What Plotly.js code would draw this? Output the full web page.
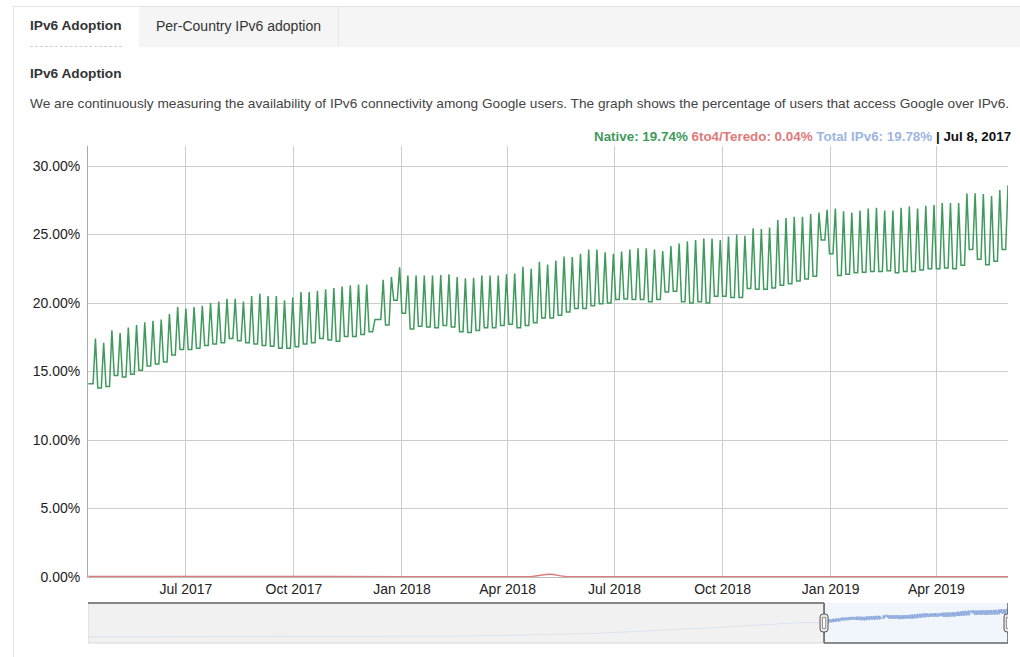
<!DOCTYPE html>
<html>
<head>
<meta charset="utf-8">
<script src="https://cdn.plot.ly/plotly-3.0.1.min.js"></script>
<style>
  html, body { margin:0; padding:0; background:#fff; width:1020px; height:657px; overflow:hidden;
    font-family:"Liberation Sans", Arial, Helvetica, sans-serif; }
  #chart { position:absolute; left:0; top:0; width:1020px; height:657px; z-index:1; }
  .hdr { position:absolute; z-index:2; white-space:nowrap; }
</style>
</head>
<body>
<div class="hdr" style="left:13px;top:6px;width:1007px;height:1px;background:#e4e4e4"></div>
<div class="hdr" style="left:13px;top:6px;width:1px;height:651px;background:#e4e4e4"></div>
<div class="hdr" style="left:139px;top:7px;width:881px;height:40px;background:#f5f5f5"></div>
<div class="hdr" style="left:338px;top:7px;width:1px;height:40px;background:#e8e8e8"></div>
<div class="hdr" style="left:30px;top:18px;font-size:13.7px;line-height:16px;font-weight:bold;color:#333">IPv6 Adoption</div>
<div class="hdr" style="left:30px;top:46px;width:92px;height:0;border-top:1px dashed #cfcfcf"></div>
<div class="hdr" style="left:156px;top:18px;font-size:14px;line-height:16px;color:#333">Per-Country IPv6 adoption</div>
<div class="hdr" style="left:30px;top:66px;font-size:13.7px;line-height:16px;font-weight:bold;color:#333">IPv6 Adoption</div>
<div class="hdr" style="left:30px;top:96px;font-size:13.68px;line-height:16px;color:#444">We are continuously measuring the availability of IPv6 connectivity among Google users. The graph shows the percentage of users that access Google over IPv6.</div>
<div id="chart"></div>
<script>
// ---------------- data ----------------
// Weekly readings: each week's Saturday peak and the following weekday low, Native IPv6 %
const firstSaturday = '2017-04-15';
const preLow = 14.1;  // weekdays before the first weekend in view
const weekendPeak = [
  17.4, 17.1, 18.0, 17.8, 18.2, 18.4, 18.6, 18.7, 18.8, 19.2,
  19.7, 19.6, 19.7, 19.8, 20.0, 20.1, 20.3, 20.3, 20.1, 20.5,
  20.7, 20.5, 20.5, 20.2, 20.4, 20.8, 20.8, 20.9, 21.0, 21.1,
  21.2, 21.3, 21.35, 21.35, 18.8, 21.7, 21.9, 22.6, 22.0, 22.0,
  22.0, 22.0, 22.05, 22.1, 21.9, 21.8, 21.85, 22.0, 22.0, 22.0,
  22.1, 22.15, 22.65, 22.5, 23.0, 22.8, 23.1, 23.4, 23.35, 23.6,
  23.9, 23.9, 23.7, 23.6, 23.75, 23.9, 24.0, 24.0, 23.9, 23.8,
  24.15, 24.35, 24.5, 24.6, 24.7, 24.7, 24.6, 24.85, 25.0, 24.9,
  25.45, 25.4, 25.5, 26.05, 26.2, 26.3, 26.3, 26.5, 26.6, 26.8,
  26.9, 26.7, 26.6, 26.75, 26.9, 26.95, 26.75, 26.75, 26.95, 27.05,
  26.9, 27.1, 27.15, 27.3, 27.3, 27.3, 28.0, 28.0, 27.95, 27.8,
  28.25, 28.6
];
const weekdayLow = [
  13.8, 13.9, 14.7, 14.6, 14.8, 15.1, 15.4, 15.55, 15.7, 16.2,
  16.6, 16.6, 16.7, 16.9, 17.0, 17.1, 17.4, 17.25, 17.1, 17.0,
  16.9, 16.85, 16.7, 16.7, 16.8, 17.0, 17.1, 17.4, 17.3, 17.2,
  17.55, 17.55, 17.7, 17.9, 18.8, 18.4, 20.2, 19.25, 18.1, 18.3,
  18.25, 18.2, 18.35, 18.25, 17.9, 17.85, 18.0, 18.2, 18.2, 18.35,
  18.45, 18.2, 18.35, 18.55, 18.9, 18.9, 19.1, 19.35, 19.6, 19.6,
  19.8, 19.95, 20.0, 20.25, 20.3, 20.25, 20.25, 20.1, 20.25, 20.8,
  20.85, 20.1, 20.0, 20.1, 20.0, 20.5, 20.5, 20.4, 20.4, 21.05,
  21.0, 21.0, 21.1, 21.3, 21.4, 21.6, 21.75, 21.95, 24.6, 23.6,
  22.0, 22.1, 22.2, 22.25, 22.3, 22.3, 22.35, 22.2, 22.3, 22.3,
  22.4, 22.5, 22.5, 22.55, 22.5, 22.75, 23.9, 23.2, 22.8, 23.05,
  23.9
];
// 6to4/Teredo (%)
const teredoDates = ['2017-04-09','2017-07-01','2017-10-01','2018-01-01','2018-04-01','2018-04-22','2018-05-07','2018-05-20','2018-06-10','2018-10-01','2019-01-01','2019-06-01'];
const teredoVals  = [0.05, 0.04, 0.04, 0.03, 0.03, 0.05, 0.2, 0.05, 0.03, 0.02, 0.02, 0.02];
// Long-run history for the range selector (Total IPv6 %)
const histDates = ['2008-09-08','2009-01-01','2009-07-01','2010-01-01','2010-07-01','2011-01-01','2011-07-01','2012-01-01','2012-07-01','2013-01-01','2013-07-01','2014-01-01','2014-07-01','2015-01-01','2015-07-01','2016-01-01','2016-07-01','2017-01-01'];
const histTotal = [0.14, 0.16, 0.2, 0.22, 0.25, 0.3, 0.36, 0.45, 0.7, 1.0, 1.6, 2.5, 3.6, 5.3, 7.2, 9.6, 12.0, 14.5];
// Legend readout
const legendNative = '19.74%', legendTeredo = '0.04%', legendTotal = '19.78%', legendDate = 'Jul 8, 2017';
// View window
const viewStart = '2017-04-08 16:00', viewEnd = '2019-06-01 00:00', fullStart = '2008-09-08';

// ---------------- build ----------------
function addDays(iso, n) {
  const d = new Date(iso + 'T00:00:00Z');
  d.setUTCDate(d.getUTCDate() + n);
  return d.toISOString().slice(0, 10);
}
const nx = [], ny = [];
nx.push(addDays(firstSaturday, -6)); ny.push(preLow);
nx.push(addDays(firstSaturday, -2)); ny.push(preLow);
for (let k = 0; k < weekendPeak.length; k++) {
  const sat = addDays(firstSaturday, 7 * k);
  nx.push(sat); ny.push(weekendPeak[k]);            // Saturday peak
  if (k < weekdayLow.length) {
    nx.push(addDays(sat, 2)); ny.push(weekdayLow[k]); // Monday
    nx.push(addDays(sat, 5)); ny.push(weekdayLow[k]); // Thursday
  }
}
const miniX = histDates.concat(nx.slice(1));
const miniY = histTotal.concat(ny.slice(1));

const GREEN = '#3f9b5c', RED = '#e07a7a', BLUE = '#9db6e0';
const FONT = '"Liberation Sans", Arial, Helvetica, sans-serif';

const traces = [
  { x: miniX, y: miniY, xaxis: 'x2', yaxis: 'y2', type: 'scatter', mode: 'lines',
    line: { color: '#88a6dc', width: 1 }, hoverinfo: 'skip' },
  { x: teredoDates, y: teredoVals, type: 'scatter', mode: 'lines',
    line: { color: RED, width: 1.3, shape: 'spline' }, name: '6to4/Teredo' },
  { x: nx, y: ny, type: 'scatter', mode: 'lines',
    line: { color: GREEN, width: 1.5 }, name: 'Native' }
];

const handlePath = 'M -4,-6 Q -4,-9 -1,-9 L 1,-9 Q 4,-9 4,-6 L 4,6 Q 4,9 1,9 L -1,9 Q -4,9 -4,6 Z';
const innerPath = 'M -1.6,-5.5 L 1.6,-5.5 L 1.6,5.5 L -1.6,5.5 Z';
function handle(at) {
  return [
    { type: 'path', xref: 'x2', yref: 'y2 domain', xsizemode: 'pixel', ysizemode: 'pixel',
      xanchor: at, yanchor: 0.5, path: handlePath, fillcolor: '#e9e9e9',
      line: { color: '#555', width: 1 }, layer: 'above' },
    { type: 'path', xref: 'x2', yref: 'y2 domain', xsizemode: 'pixel', ysizemode: 'pixel',
      xanchor: at, yanchor: 0.5, path: innerPath, fillcolor: '#fafafa',
      line: { color: '#777', width: 0.8 }, layer: 'above' }
  ];
}

const shapes = [
  { type: 'rect', xref: 'x2', yref: 'y2 domain', x0: viewStart, x1: viewEnd, y0: 0, y1: 1,
    fillcolor: '#f1f6fd', line: { width: 0 }, layer: 'below' },
  { type: 'rect', xref: 'x2', yref: 'y2 domain', x0: fullStart, x1: viewStart, y0: 0, y1: 1,
    fillcolor: 'rgba(238,238,238,0.82)', line: { color: '#d8d8d8', width: 1 }, layer: 'above' },
  { type: 'line', xref: 'x2', yref: 'y2 domain', x0: fullStart, x1: viewStart, y0: 1, y1: 1,
    line: { color: '#666', width: 1.6 }, layer: 'above' },
  { type: 'line', xref: 'x2', yref: 'y2 domain', x0: viewStart, x1: viewStart, y0: 0, y1: 1,
    line: { color: '#666', width: 1.6 }, layer: 'above' },
  { type: 'line', xref: 'x2', yref: 'y2 domain', x0: viewStart, x1: viewEnd, y0: 0, y1: 0,
    line: { color: '#666', width: 1.6 }, layer: 'above' },
  { type: 'line', xref: 'x2', yref: 'y2 domain', x0: viewEnd, x1: viewEnd, y0: 0, y1: 1,
    line: { color: '#666', width: 1.6 }, layer: 'above' }
].concat(handle(viewStart), handle(viewEnd));

const legendText =
  '<span style="color:' + GREEN + '">Native: ' + legendNative + '</span> ' +
  '<span style="color:' + RED + '">6to4/Teredo: ' + legendTeredo + '</span> ' +
  '<span style="color:' + BLUE + '">Total IPv6: ' + legendTotal + '</span> ' +
  '<span style="color:#111">| ' + legendDate + '</span>';

const layout = {
  width: 1020, height: 657,
  margin: { l: 88, r: 12, t: 146, b: 14, pad: 0 },
  paper_bgcolor: 'rgba(0,0,0,0)', plot_bgcolor: 'rgba(0,0,0,0)',
  showlegend: false, hovermode: false,
  font: { family: FONT, size: 14, color: '#222' },
  xaxis: { domain: [0, 1], anchor: 'y', type: 'date', range: [viewStart, viewEnd],
    dtick: 'M3', tick0: '2017-01-01', tickformat: '%b %Y', ticks: '',
    showgrid: true, gridcolor: '#cdcdcd', gridwidth: 1, zeroline: false,
    showline: true, linecolor: '#bbb', layer: 'below traces', ticklabelstandoff: -1,
    tickfont: { size: 14, color: '#222' } },
  yaxis: { domain: [0.1328, 1], anchor: 'x', range: [0, 31.46], dtick: 5, tick0: 0,
    tickformat: '.2f', ticksuffix: '%', ticks: '', showgrid: true, gridcolor: '#cdcdcd',
    zeroline: false, showline: true, linecolor: '#aaa', ticklabelstandoff: 4,
    tickfont: { size: 14, color: '#222' } },
  xaxis2: { domain: [0, 1], anchor: 'y2', type: 'date', range: [fullStart, viewEnd],
    showgrid: false, showticklabels: false, zeroline: false, showline: false, ticks: '' },
  yaxis2: { domain: [0, 0.0805], anchor: 'x2', range: [-5.9, 34.1],
    showgrid: false, showticklabels: false, zeroline: false, showline: false, ticks: '' },
  shapes: shapes,
  annotations: [
    { xref: 'paper', yref: 'paper', x: 1.0054, y: 1.0201, xanchor: 'right', yanchor: 'middle',
      showarrow: false, text: '<b>' + legendText + '</b>', font: { family: FONT, size: 13.4 } }
  ]
};

Plotly.newPlot('chart', traces, layout, { displayModeBar: false, staticPlot: true });
</script>
</body>
</html>
